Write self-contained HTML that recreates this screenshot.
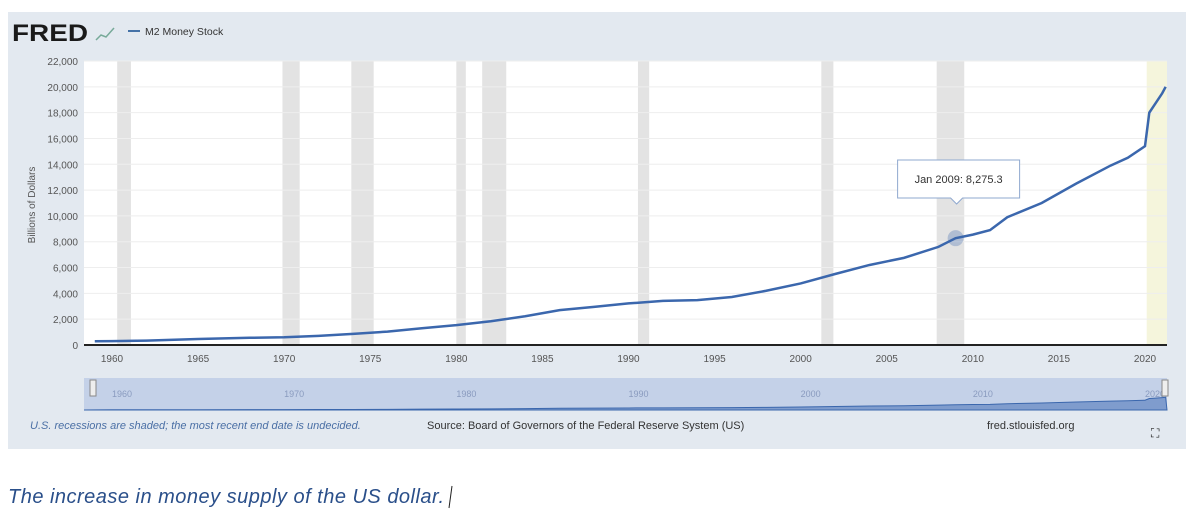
<!DOCTYPE html>
<html><head><meta charset="utf-8"><style>
body{margin:0;width:1200px;height:527px;background:#fff;overflow:hidden;font-family:"Liberation Sans",sans-serif;position:relative}
svg{position:absolute;left:0;top:0}
</style></head><body>
<svg width="1200" height="527" id="chart">
<rect x="8" y="12" width="1178" height="437" fill="#e3e9f0"/>
<text x="12" y="41" font-size="24" font-weight="bold" fill="#1a1a1a" textLength="76" lengthAdjust="spacingAndGlyphs">FRED</text>
<polyline points="96,40 101,35 106,37 114,28" fill="none" stroke="#7a9" stroke-width="1.5"/>
<line x1="128" y1="31" x2="140" y2="31" stroke="#4572a7" stroke-width="2"/>
<text x="145" y="35" font-size="10.5" fill="#333">M2 Money Stock</text>
<rect x="84" y="61" width="1083" height="284" fill="#fff"/>
<g id="rec"></g><g id="grid"></g><g id="yt"></g><g id="xt"></g>
<path id="line" fill="none" stroke="#3b67ad" stroke-width="2.5"/>
<line x1="84" y1="345" x2="1167" y2="345" stroke="#222" stroke-width="2"/>
<text transform="translate(35,205) rotate(-90)" font-size="10" fill="#555" text-anchor="middle">Billions of Dollars</text>
<rect x="84" y="378" width="1083" height="32" fill="#c4d1e8"/>
<path id="nav" fill="#7f9ccd" stroke="#3b67ad"/>
<g id="navt"></g>
<rect x="90" y="380" width="6" height="16" fill="#eee" stroke="#888"/>
<rect x="1162" y="380" width="6" height="16" fill="#eee" stroke="#888"/>
<text x="30" y="429" font-size="11" font-style="italic" fill="#4a6fa5">U.S. recessions are shaded; the most recent end date is undecided.</text>
<text x="427" y="429" font-size="11" fill="#333">Source: Board of Governors of the Federal Reserve System (US)</text>
<text x="987" y="429" font-size="11" fill="#333">fred.stlouisfed.org</text>
<text x="1151" y="437" font-size="12" fill="#222">⛶</text>
<g id="tip"></g>
<text x="8" y="503" font-size="20" font-style="italic" fill="#2a4f8a" textLength="436" lengthAdjust="spacing">The increase in money supply of the US dollar.</text>
<line x1="452" y1="486" x2="449" y2="508" stroke="#222"/>
</svg>
<script>
const years=[1959,1960,1962,1965,1968,1970,1972,1974,1976,1978,1980,1982,1984,1986,1988,1990,1992,1994,1996,1998,2000,2002,2004,2006,2008,2009,2010,2011,2012,2014,2016,2018,2019,2020,2020.25,2020.5,2021,2021.2];
const m2=[290,300,340,460,560,600,710,860,1040,1300,1540,1840,2230,2700,2950,3220,3420,3480,3720,4200,4770,5500,6200,6750,7600,8275,8550,8900,9900,11000,12500,13900,14500,15400,18000,18500,19500,20000];
const yTicks=[0,2000,4000,6000,8000,10000,12000,14000,16000,18000,20000,22000];
const xTicks=[1960,1965,1970,1975,1980,1985,1990,1995,2000,2005,2010,2015,2020];
const navTicks=[1960,1970,1980,1990,2000,2010,2020];
const recStart=[1960.3,1969.9,1973.9,1980.0,1981.5,1990.55,2001.2,2007.9];
const recEnd=[1961.1,1970.9,1975.2,1980.55,1982.9,1991.2,2001.9,2009.5];
const covidStart=[2020.1];
const tipYear=2009,tipVal=8275.3;
const X=y=>112+(y-1960)*(1145-112)/60, Y=v=>345-v*284/22000;
const NY=v=>410-v*14/22000;
const ns="http://www.w3.org/2000/svg";
function mk(p,t,a){const e=document.createElementNS(ns,t);for(const k in a)e.setAttribute(k,a[k]);document.getElementById(p).appendChild(e);return e;}
recStart.forEach((s,i)=>{const e=mk('rec','rect',{x:X(s),y:61,width:X(recEnd[i])-X(s),height:284,fill:'#e3e3e3'});

});
covidStart.forEach(s=>{const e=mk('rec','rect',{x:X(s),y:61,width:1167-X(s),height:284,fill:'#f5f5dc'});

});
yTicks.forEach(v=>{if(v>0){const g=mk('grid','line',{x1:84,x2:1167,y1:Y(v),y2:Y(v),stroke:'#eee'});

}
const t=mk('yt','text',{x:78,y:Y(v)+4,'font-size':10,fill:'#555','text-anchor':'end'});t.textContent=v.toLocaleString('en-US');

});
xTicks.forEach(y=>{const t=mk('xt','text',{x:X(y),y:362,'font-size':10,fill:'#555','text-anchor':'middle'});t.textContent=y;

});
navTicks.forEach(y=>{const t=mk('navt','text',{x:X(y)+10,y:397,'font-size':9,fill:'#8a9bbf','text-anchor':'middle'});t.textContent=y;

});
const xs=years.map(y=>Math.min(X(y),1167));
document.getElementById('line').setAttribute('d','M'+years.map((y,i)=>xs[i]+','+Y(m2[i])).join('L'));
document.getElementById('nav').setAttribute('d','M84,410L'+years.map((y,i)=>xs[i]+','+NY(m2[i])).join('L')+'L1167,410Z');
const px=X(tipYear),py=Y(tipVal);
const c=mk('tip','circle',{cx:px,cy:py,r:8,fill:'rgba(59,103,173,0.3)'});


const b=mk('tip','path',{d:`M${px-58},160h122v38h-57l-6,6l-6,-6h-53z`,fill:'#fff',stroke:'#8fa8cf'});


const tt=mk('tip','text',{x:px+3,y:183,'font-size':11,fill:'#333','text-anchor':'middle'});tt.textContent='Jan 2009: 8,275.3';


</script>
</body></html>
